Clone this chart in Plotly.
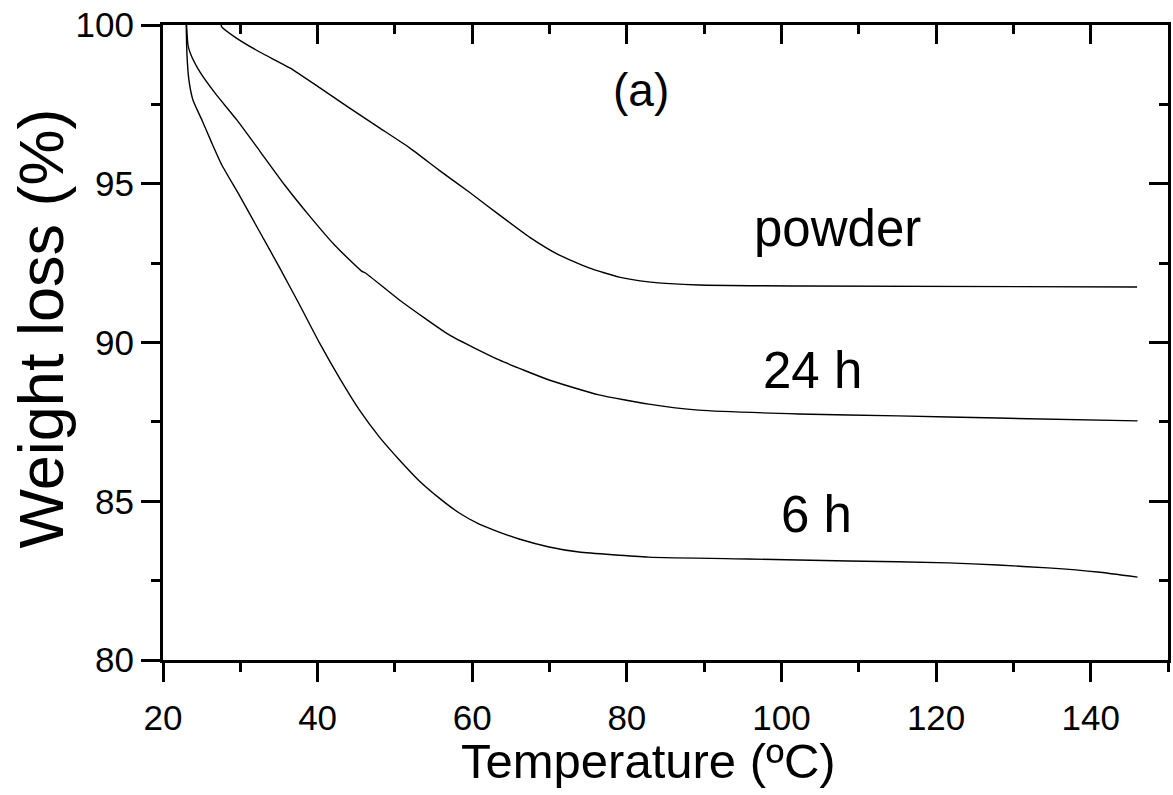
import plotly.graph_objects as go

# ---- data ----
temp_6h = [22.97, 23.10, 23.35, 23.87, 25.03, 26.32, 27.61, 29.94, 32.52, 35.10, 37.68,
           40.26, 42.84, 45.42, 48.0, 50.58, 53.16, 55.74, 58.32, 60.90, 63.48, 66.06,
           69.94, 73.81, 82.84, 95.74, 108.65, 121.55, 128.0, 134.45, 140.9, 146.06]
wl_6h = [100.4, 99.06, 98.27, 97.64, 97.01, 96.28, 95.59, 94.61, 93.48, 92.35, 91.18,
         89.98, 88.88, 87.87, 87.02, 86.30, 85.64, 85.10, 84.63, 84.28, 84.03, 83.81,
         83.56, 83.40, 83.24, 83.18, 83.12, 83.06, 82.99, 82.90, 82.77, 82.61]

temp_24h = [22.97, 23.23, 23.61, 24.77, 26.71, 29.55, 32.52, 35.74, 38.97, 42.19, 45.68,
            46.19, 50.58, 57.03, 63.48, 69.94, 76.39, 82.84, 89.29, 102.19, 115.1, 128.0, 146.06]
wl_24h = [100.4, 99.37, 99.06, 98.52, 97.86, 97.01, 96.03, 94.96, 93.98, 93.07, 92.25,
          92.19, 91.34, 90.24, 89.45, 88.82, 88.35, 88.06, 87.87, 87.75, 87.69, 87.62, 87.53]

temp_powder = [27.4, 27.6, 29.3, 32.5, 36.4, 40.3, 44.1, 48.0, 51.9, 55.7, 59.6, 63.5,
               67.4, 71.2, 75.1, 79.0, 82.8, 89.3, 102.2, 146.0]
wl_powder = [100.2, 99.94, 99.62, 99.15, 98.65, 98.02, 97.39, 96.76, 96.13, 95.43, 94.74,
             94.02, 93.32, 92.76, 92.35, 92.06, 91.91, 91.81, 91.78, 91.75]

x_ticks = [20, 40, 60, 80, 100, 120, 140]
y_ticks = [80, 85, 90, 95, 100]

labels = ["(a)", "powder", "24 h", "6 h"]
label_x = [81.8, 107.3, 104.0, 104.5]
label_y = [97.95, 93.6, 89.13, 84.57]
label_size = [46, 51, 51, 51]

x_title = "Temperature (ºC)"
y_title = "Weight loss (%)"

FONT = "Liberation Sans, Arial, sans-serif"
X_RANGE = [20, 150]
Y_RANGE = [80, 100]

fig = go.Figure()
for xs, ys in [(temp_powder, wl_powder), (temp_24h, wl_24h), (temp_6h, wl_6h)]:
    fig.add_trace(go.Scatter(x=xs, y=ys, mode="lines", cliponaxis=True,
                             line=dict(color="black", width=1.4, shape="spline", smoothing=0.5),
                             showlegend=False, hoverinfo="skip"))

# invisible trace to activate the mirror axes (top / right, inside ticks)
fig.add_trace(go.Scatter(x=temp_powder, y=wl_powder, xaxis="x2", yaxis="y2", mode="lines",
                         line=dict(width=0), opacity=0, showlegend=False, hoverinfo="skip"))

for t, x, y, s in zip(labels, label_x, label_y, label_size):
    fig.add_annotation(x=x, y=y, text=t, showarrow=False, xanchor="center", yanchor="middle",
                       font=dict(family=FONT, size=s, color="black"))

# axis titles as paper-anchored text
fig.add_annotation(xref="paper", yref="paper", x=0.4826, y=-0.1598, text=x_title,
                   showarrow=False, xanchor="center", yanchor="middle",
                   font=dict(family=FONT, size=49, color="black"))
fig.add_annotation(xref="paper", yref="paper", x=-0.1214, y=0.522, text=y_title, textangle=-90,
                   showarrow=False, xanchor="center", yanchor="middle",
                   font=dict(family=FONT, size=63, color="black"))

common_x = dict(range=X_RANGE, showgrid=False, zeroline=False, showline=True, automargin=False,
                linecolor="black", linewidth=3, tickcolor="black", tickwidth=3, ticklen=19)
common_y = dict(range=Y_RANGE, showgrid=False, zeroline=False, showline=True, automargin=False,
                linecolor="black", linewidth=3, tickcolor="black", tickwidth=3, ticklen=19)

fig.update_layout(
    width=1173, height=795,
    margin=dict(l=163, r=5, t=25, b=135),
    paper_bgcolor="white", plot_bgcolor="white",
    font=dict(family=FONT, color="black"),
    xaxis=dict(**common_x, ticks="outside", tickmode="array", tickvals=x_ticks,
               ticktext=[str(v) for v in x_ticks],
               tickfont=dict(family=FONT, size=35, color="black"), ticklabelstandoff=6,
               minor=dict(dtick=10, tick0=20, ticks="outside", ticklen=9, tickwidth=3, tickcolor="black")),
    yaxis=dict(**common_y, ticks="outside", tickmode="array", tickvals=y_ticks,
               ticktext=[str(v) for v in y_ticks],
               tickfont=dict(family=FONT, size=35, color="black"), ticklabelstandoff=0,
               minor=dict(dtick=2.5, tick0=80, ticks="outside", ticklen=9, tickwidth=3, tickcolor="black")),
    xaxis2=dict(**common_x, overlaying="x", side="top", ticks="inside", tickmode="array",
                tickvals=x_ticks, showticklabels=False,
                minor=dict(dtick=10, tick0=20, ticks="inside", ticklen=9, tickwidth=3, tickcolor="black")),
    yaxis2=dict(**common_y, overlaying="y", side="right", ticks="inside", tickmode="array",
                tickvals=y_ticks, showticklabels=False,
                minor=dict(dtick=2.5, tick0=80, ticks="inside", ticklen=9, tickwidth=3, tickcolor="black")),
)

fig.write_html("out.html", config={"displayModeBar": False},
               post_script="document.body.style.margin='0';document.body.style.overflow='hidden';")
